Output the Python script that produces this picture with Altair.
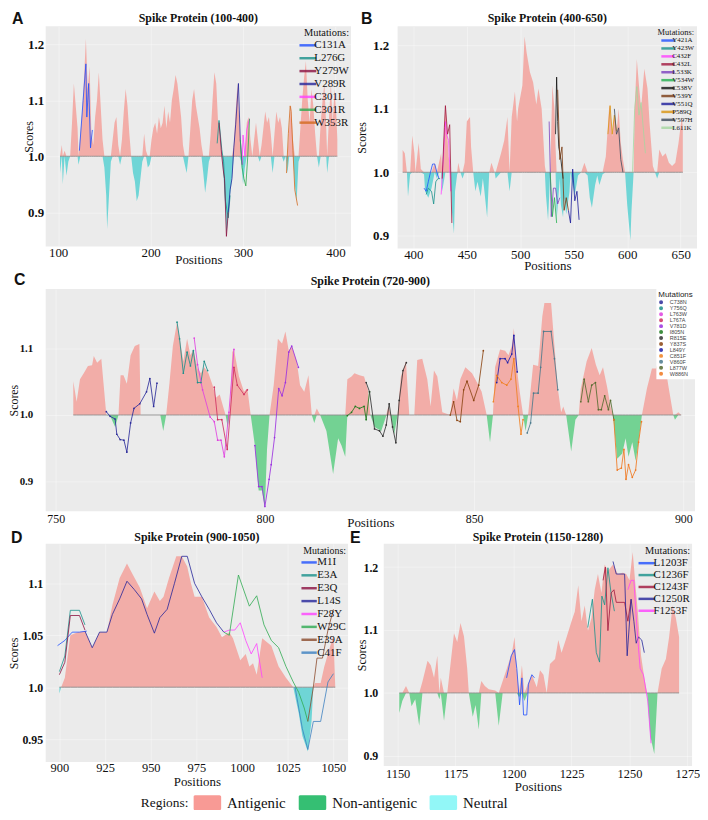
import altair as alt
import pandas as pd

SERIF = "Liberation Serif"
SANS = "Liberation Sans"
INK = "#111111"
PANEL_BG = "#EBEBEB"
ANTIGENIC_FILL = "#F2ADA8"
NEUTRAL_FILL = "#6FD5D6"
NONANTIGENIC_FILL = "#73D293"
BASE_COLOR = "#8C8C8C"

# ---------------- Panel A : Spike Protein (100-400) ----------------
a_profile = [
    (102, 0.97), (104, 1.02), (105, 0.95), (107, 1.01), (109, 0.965), (111, 0.99), (113, 1.0), (115, 1.06),
    (117, 1.13), (119, 1.09), (121, 1.05), (122, 0.985), (124, 1.04), (126, 1.08), (128, 1.14), (130, 1.21),
    (132, 1.12), (134, 1.16), (136, 1.04), (138, 1.02), (140, 1.07), (142, 1.1), (144, 1.15), (146, 1.09),
    (148, 1.03), (150, 0.98), (152, 0.93), (153, 0.87), (155, 0.93), (157, 0.99), (159, 1.03), (161, 1.06),
    (163, 1.07), (165, 1.02), (167, 0.985), (169, 1.03), (171, 1.08), (173, 1.12), (175, 1.09), (177, 1.04),
    (179, 1.0), (181, 0.97), (183, 0.955), (185, 0.92), (187, 0.93), (189, 0.96), (191, 0.99), (193, 1.04),
    (195, 1.01), (197, 0.98), (199, 0.985), (201, 1.03), (203, 1.05), (205, 1.06), (207, 1.04), (209, 1.07),
    (211, 1.05), (213, 1.06), (215, 1.09), (217, 1.05), (219, 1.08), (221, 1.06), (223, 1.1), (225, 1.12),
    (227, 1.145), (229, 1.13), (231, 1.1), (233, 1.07), (235, 1.02), (237, 0.985), (239, 0.97), (241, 1.0),
    (243, 1.05), (245, 1.1), (247, 1.12), (249, 1.09), (251, 1.07), (253, 1.05), (255, 1.02), (257, 0.97),
    (259, 0.935), (261, 0.96), (263, 0.99), (265, 1.04), (267, 1.1), (269, 1.15), (271, 1.13), (273, 1.06),
    (275, 1.03), (277, 1.0), (279, 0.96), (281, 0.9), (282, 0.86), (284, 0.89), (286, 0.93), (288, 0.96),
    (290, 1.02), (292, 1.08), (294, 1.13), (296, 1.06), (298, 0.99), (300, 0.95), (302, 0.98), (304, 1.06),
    (306, 1.07), (308, 1.03), (310, 1.0), (312, 1.03), (314, 1.06), (316, 1.03), (318, 0.99), (320, 1.02),
    (322, 1.05), (324, 1.08), (326, 1.06), (328, 1.07), (330, 1.04), (332, 0.97), (334, 1.04), (336, 1.08),
    (338, 1.06), (340, 1.07), (342, 1.05), (344, 0.99), (346, 1.0), (348, 0.97), (350, 1.05), (352, 1.09),
    (354, 1.03), (356, 0.95), (358, 0.92), (360, 0.99), (362, 1.05), (364, 1.1), (366, 1.14), (368, 1.17),
    (370, 1.1), (372, 1.06), (374, 1.12), (376, 1.09), (378, 1.04), (380, 1.0), (382, 0.98), (384, 1.06),
    (386, 1.1), (388, 1.13), (390, 1.05), (391, 0.97), (393, 1.07), (395, 1.13), (397, 1.06), (399, 1.12),
    (401, 1.07), (402, 1.03),
]
a_mut_names = ["C131A", "L276G", "Y279W", "V289R", "C301L", "C301R", "W353R"]
a_mut_colors = ["#1F4FFF", "#17908A", "#8B1040", "#23239A", "#FF40FF", "#2EAA50", "#D2691E"]
a_mut_positions = [
    [123, 127, 130, 131, 133, 135, 137],
    [272, 274, 277, 279, 281, 284, 286],
    [274, 277, 279, 280, 282, 284],
    [284, 286, 288, 290, 292, 295, 297, 299],
    [299, 300, 302, 304, 307],
    [297, 299, 301, 303, 305, 307],
    [347, 349, 351, 352, 354, 356, 359],
]
a_mut_scores = [
    [1.01, 1.10, 1.165, 1.07, 1.13, 1.015, 1.047],
    [1.023, 1.064, 1.012, 0.99, 0.92, 0.89, 0.93],
    [1.06, 1.0, 0.97, 0.96, 0.857, 0.9],
    [0.9, 0.94, 0.96, 1.015, 1.056, 1.13, 1.03, 0.985],
    [0.985, 1.038, 1.0, 1.047, 1.067],
    [1.03, 0.98, 0.96, 0.947, 0.997, 1.067],
    [0.97, 1.04, 1.09, 1.08, 1.01, 0.94, 0.912],
]

# ---------------- Panel B : Spike Protein (400-650) ----------------
b_profile = [
    (390, 1.035), (392, 1.03), (394, 1.0), (395, 0.962), (397, 0.997), (399, 1.058), (401, 1.03), (402, 1.0),
    (405, 1.046), (407, 1.005), (410, 0.997), (411, 0.97), (414, 0.96), (417, 0.975), (420, 1.015), (422, 0.99),
    (424, 1.015), (426, 1.03), (427, 0.97), (430, 1.107), (431, 1.08), (433, 1.025), (435, 1.0), (436, 0.94),
    (438, 0.903), (439, 0.97), (441, 0.997), (442, 1.015), (444, 1.0), (446, 0.99), (448, 1.015), (450, 1.08),
    (453, 1.087), (454, 1.04), (456, 1.0), (458, 0.97), (460, 0.985), (463, 0.962), (465, 0.99), (466, 0.977),
    (469, 0.929), (471, 1.0), (473, 1.015), (476, 1.0), (477, 0.99), (482, 1.03), (485, 1.05), (488, 1.087),
    (490, 0.97), (492, 1.087), (495, 1.127), (497, 1.08), (498, 1.1), (502, 1.137), (504, 1.214), (506, 1.188),
    (509, 1.158), (512, 1.142), (515, 1.107), (517, 1.132), (520, 1.1), (521, 1.071), (523, 1.01), (524, 0.964),
    (526, 0.924), (528, 1.0), (530, 1.137), (532, 1.1), (533, 1.04), (534, 0.924), (537, 0.99), (538, 0.949),
    (540, 0.929), (541, 0.959), (543, 0.934), (546, 0.969), (547, 1.0), (549, 0.98), (551, 0.964), (554, 0.995),
    (557, 1.0), (560, 1.015), (563, 0.995), (565, 0.96), (567, 0.944), (570, 0.98), (572, 0.995), (574, 0.98),
    (577, 0.997), (580, 1.025), (583, 1.1), (584, 1.107), (586, 1.056), (588, 1.092), (590, 1.061), (592, 1.1),
    (594, 1.046), (596, 1.02), (598, 1.0), (600, 0.949), (603, 0.893), (604, 0.939), (606, 1.0), (607, 1.1),
    (609, 1.178), (611, 1.137), (613, 1.1), (616, 1.163), (619, 1.132), (621, 1.076), (624, 1.01), (626, 1.0),
    (628, 0.99), (630, 1.036), (633, 1.025), (636, 1.03), (639, 1.015), (642, 1.01), (645, 1.015), (648, 1.046),
    (651, 1.087), (652, 1.07),
]
b_mut_names = ["Y421A", "Y423W", "C432F", "C432L", "L533K", "V534W", "C538V", "V539Y", "V551Q", "P589Q",
               "V597H", "L611K"]
b_mut_colors = ["#1F4FFF", "#17908A", "#FF40FF", "#A0143C", "#7B3FBF", "#22B04F", "#111111", "#7A3A12",
                "#1B1B9A", "#D9940F", "#3C4A5C", "#A5D6A0"]
b_mut_positions = [
    [410, 412, 414, 416, 418, 420, 422, 424],
    [412, 414, 417, 419, 421, 423, 425],
    [426, 428, 430, 431, 433, 435],
    [427, 429, 430, 432, 434, 436],
    [527, 529, 531, 533, 535, 537],
    [528, 530, 532, 534],
    [533, 534, 535, 536, 538, 540],
    [535, 537, 539, 541, 543, 545],
    [545, 547, 549, 551, 553, 555],
    [582, 584, 586, 588, 590],
    [588, 590, 592, 594, 596],
    [605, 607, 609, 611, 613, 615, 617],
]
b_mut_scores = [
    [0.975, 0.97, 0.985, 1.0, 1.013, 1.013, 1.0, 0.99],
    [0.965, 0.975, 0.97, 0.95, 0.985, 0.99, 0.99],
    [0.965, 1.02, 1.08, 1.06, 1.05, 0.97],
    [0.99, 1.07, 1.105, 1.06, 1.075, 0.92],
    [1.08, 0.93, 0.975, 0.975, 0.95, 0.96],
    [1.0, 0.93, 0.96, 0.92],
    [1.06, 1.15, 1.08, 1.04, 1.02, 0.99],
    [1.13, 1.02, 1.04, 0.94, 0.96, 0.94],
    [0.94, 0.92, 1.005, 0.955, 0.97, 0.925],
    [1.06, 1.105, 1.06, 1.09, 1.065],
    [1.1, 1.06, 1.07, 1.02, 1.0],
    [1.0, 1.1, 1.135, 1.09, 1.11, 1.07, 1.03],
]

# ---------------- Panel C : Spike Protein (720-900) ----------------
c_profile = [
    (754.2, 1.051), (755.0, 1.02), (755.8, 1.054), (756.7, 1.063), (757.7, 1.074), (758.7, 1.075), (759.1, 1.089),
    (759.9, 1.079), (760.9, 1.085), (762.1, 1.0), (763.0, 0.999), (764.2, 0.982), (765.0, 1.0), (765.5, 1.06),
    (766.2, 1.06), (767.0, 1.047), (767.9, 1.09), (768.9, 1.104), (770.0, 1.107), (770.3, 1.0), (775.0, 1.0),
    (775.7, 0.976), (776.4, 1.0), (777.2, 1.049), (778.0, 1.104), (779.0, 1.14), (779.6, 1.117), (780.5, 1.081),
    (781.4, 1.115), (782.2, 1.09), (782.9, 1.099), (783.9, 1.07), (784.7, 1.063), (785.5, 1.072), (786.5, 1.063),
    (787.5, 1.045), (788.3, 1.026), (789.2, 1.031), (790.0, 1.013), (790.6, 1.0), (791.1, 0.982), (791.6, 1.0),
    (792.2, 1.095), (792.6, 1.099), (793.8, 1.058), (795.0, 1.035), (795.8, 1.04), (796.6, 1.0), (797.6, 0.954),
    (798.5, 0.886), (799.3, 0.886), (800.0, 0.86), (800.5, 0.948), (801.1, 1.0), (802.1, 1.045), (803.1, 1.115),
    (804.1, 1.108), (804.9, 1.126), (805.7, 1.097), (806.4, 1.104), (807.6, 1.081), (808.4, 1.045), (809.4, 1.035),
    (810.4, 1.06), (811.2, 1.0), (811.8, 0.988), (812.4, 1.01), (813.2, 1.0), (814.7, 0.976), (816.3, 0.911),
    (817.5, 0.965), (818.3, 0.954), (819.2, 0.937), (819.7, 1.054), (820.7, 1.058), (821.4, 1.063), (822.6, 1.06),
    (823.7, 1.058), (824.6, 1.038), (825.2, 1.0), (826.2, 0.982), (827.8, 0.976), (829.0, 0.999), (829.5, 1.013),
    (830.1, 1.0), (830.9, 0.971), (831.7, 1.0), (832.5, 1.058), (833.7, 1.081), (834.5, 1.0), (835.7, 1.0),
    (836.4, 1.083), (837.6, 1.085), (838.8, 1.054), (839.6, 1.013), (840.4, 1.067), (841.2, 1.058), (842.4, 1.004),
    (844.3, 1.0), (845.1, 1.04), (845.9, 1.022), (846.7, 1.054), (847.9, 1.072), (849.5, 1.063), (850.7, 1.049),
    (851.8, 1.035), (853.0, 1.0), (853.8, 0.959), (854.5, 1.0), (855.0, 1.072), (856.2, 1.099), (857.4, 1.097),
    (858.2, 1.09), (859.0, 1.104), (859.5, 1.131), (860.1, 1.076), (860.9, 1.035), (861.7, 1.0), (862.3, 0.976),
    (862.9, 1.0), (864.1, 1.076), (865.3, 1.074), (866.3, 1.149), (866.8, 1.169), (868.4, 1.169), (869.2, 1.104),
    (870.0, 1.04), (870.8, 1.004), (871.3, 1.013), (872.0, 1.0), (873.2, 0.945), (874.2, 0.993), (875.0, 1.0),
    (875.5, 1.04), (876.9, 1.081), (878.1, 1.101), (879.1, 1.076), (880.0, 1.06), (880.8, 1.072), (881.8, 1.042),
    (882.6, 1.013), (883.2, 1.0), (884.2, 0.934), (885.4, 0.942), (886.2, 0.965), (886.9, 0.937), (887.8, 0.959),
    (888.6, 0.931), (889.3, 0.959), (890.1, 1.0), (891.3, 1.04), (892.5, 1.07), (893.5, 1.07), (894.5, 1.095),
    (895.3, 1.09), (896.4, 1.045), (897.6, 1.0), (898.0, 0.993), (898.8, 1.004), (899.5, 1.0),
]
c_mut_names = ["C738N", "Y756Q", "L763W", "L767A", "V781D", "I805N", "R815E", "Y837S", "L849Y", "C851F",
               "V860F", "L877W", "W886N"]
c_mut_colors = ["#2B2B9A", "#1E8F8A", "#E040E0", "#D03060", "#9B30E0", "#1E7B1E", "#333333", "#8B4513",
                "#1E1EAA", "#F08020", "#4A7A8C", "#556B2F", "#F07820"]
c_mut_positions = [
    [762.1, 763.0, 764.2, 764.6, 765.4, 766.3, 767.0, 767.9, 768.7, 770.1, 771.7, 772.5, 773.4, 774.2],
    [779.0, 779.6, 780.5, 781.4, 782.2, 782.9, 783.9, 784.7, 785.5, 786.3],
    [783.1, 783.9, 785.1, 786.9, 787.9, 788.7, 789.5, 790.3, 791.4, 792.6],
    [787.9, 788.7, 789.7, 791.0, 792.6, 793.4, 795.0, 795.8],
    [797.6, 798.5, 799.3, 800.0, 801.0, 801.5, 802.3, 803.3, 804.1, 804.9, 805.7, 806.4, 808.0],
    [819.7, 820.7, 821.6, 822.6, 823.7, 824.2, 825.0],
    [824.2, 825.0, 826.2, 827.4, 828.2, 829.0, 829.7, 830.5, 831.3, 832.1, 833.0, 833.8],
    [844.3, 845.1, 845.9, 846.7, 847.5, 848.3, 849.9, 851.1, 852.2],
    [855.4, 856.2, 857.4, 858.0, 859.0, 859.5, 860.3],
    [854.6, 855.4, 856.6, 857.8, 858.8, 859.5, 860.5, 861.2, 861.7],
    [862.7, 863.5, 864.2, 865.3, 865.9, 866.6, 868.4, 869.2, 870.0],
    [875.5, 876.3, 877.3, 878.1, 879.0, 879.7, 880.4, 881.2, 882.1, 882.6, 883.4],
    [883.4, 884.2, 885.2, 885.8, 886.3, 886.9, 887.8, 888.6, 889.3, 890.0],
]
c_mut_scores = [
    [1.005, 0.998, 0.994, 0.971, 0.963, 0.962, 0.944, 0.988, 1.01, 1.017, 1.035, 1.055, 1.013, 1.048],
    [1.14, 1.115, 1.063, 1.095, 1.074, 1.097, 1.049, 1.049, 1.081, 1.067],
    [1.116, 1.076, 1.038, 0.997, 0.99, 0.962, 0.962, 0.937, 1.004, 1.099],
    [1.042, 0.993, 0.993, 0.948, 1.072, 1.045, 1.031, 1.038],
    [0.954, 0.892, 0.892, 0.862, 0.903, 0.925, 0.966, 1.04, 1.029, 1.049, 1.095, 1.104, 1.072],
    [0.999, 1.004, 1.013, 1.01, 1.013, 0.993, 1.035],
    [1.049, 1.035, 0.979, 0.976, 0.968, 0.985, 1.017, 0.982, 0.958, 1.022, 1.067, 1.079],
    [1.0, 1.02, 0.992, 0.99, 1.038, 1.051, 1.022, 1.045, 1.097],
    [1.049, 1.085, 1.085, 1.079, 1.092, 1.12, 1.065],
    [1.02, 1.06, 1.049, 1.045, 1.054, 1.085, 1.013, 0.971, 0.993],
    [0.973, 0.988, 1.033, 1.033, 1.072, 1.126, 1.126, 1.085, 1.038],
    [1.02, 1.054, 1.02, 1.045, 1.049, 1.008, 1.008, 1.029, 1.008, 1.022, 0.993],
    [0.993, 0.917, 0.92, 0.948, 0.903, 0.925, 0.906, 0.917, 0.959, 0.99],
]

# ---------------- Panel D : Spike Protein (900-1050) ----------------
d_profile = [
    (900, 0.994), (901, 1.0), (903, 1.009), (906, 1.05), (910, 1.053), (914, 1.054), (918, 1.038), (922, 1.053),
    (926, 1.053), (929, 1.079), (933, 1.105), (937, 1.119), (940, 1.109), (944, 1.096), (948, 1.076), (952, 1.092),
    (955, 1.083), (957, 1.087), (960, 1.105), (964, 1.126), (967, 1.126), (970, 1.116), (972, 1.1), (974, 1.087),
    (978, 1.087), (982, 1.067), (986, 1.058), (989, 1.048), (993, 1.053), (995, 1.047), (999, 1.026), (1002, 1.032),
    (1004, 1.02), (1006, 1.023), (1008, 1.012), (1011, 1.047), (1016, 1.04), (1020, 1.02), (1024, 1.009),
    (1028, 1.0), (1031, 0.975), (1033, 0.953), (1036, 0.938), (1038, 0.967), (1039, 1.0), (1040, 1.004),
    (1043, 1.004), (1045, 1.02), (1047, 1.032), (1050, 1.05), (1051, 1.0),
]
d_mut_names = ["M1I", "E3A", "E3Q", "L14S", "F28Y", "W29C", "E39A", "C41F"]
d_mut_colors = ["#1F4FFF", "#17908A", "#8B1040", "#23239A", "#FF40FF", "#2EAA50", "#8B4A2B", "#3A7FC0"]
d_mut_positions = [
    [899, 903, 907, 911, 915],
    [900, 903, 906, 908, 911, 914],
    [900, 903, 906, 908, 911, 914],
    [914, 918, 922, 926, 929, 933, 937, 941, 945, 948, 952, 955, 959, 963, 967, 970, 974, 978, 982, 986, 990],
    [990, 993, 996, 999, 1002, 1005, 1008, 1011],
    [990, 993, 998, 1004, 1008, 1012, 1016, 1020, 1024, 1028, 1031, 1034, 1036],
    [1036, 1039, 1041, 1044, 1047, 1050],
    [1029, 1033, 1036, 1039, 1043, 1047, 1050],
]
d_mut_scores = [
    [1.04, 1.045, 1.053, 1.053, 1.054],
    [1.015, 1.03, 1.074, 1.074, 1.074, 1.06],
    [1.012, 1.024, 1.069, 1.069, 1.069, 1.055],
    [1.054, 1.038, 1.053, 1.053, 1.07, 1.085, 1.102, 1.094, 1.085, 1.07, 1.052, 1.067, 1.075, 1.1, 1.126, 1.126,
     1.1, 1.087, 1.075, 1.062, 1.053],
    [1.053, 1.055, 1.055, 1.062, 1.045, 1.032, 1.042, 1.009],
    [1.053, 1.05, 1.108, 1.078, 1.088, 1.06, 1.045, 1.038, 1.02, 1.005, 0.995, 0.98, 0.967],
    [0.967, 1.0, 1.028, 1.028, 1.055, 1.075],
    [1.0, 0.96, 0.94, 0.967, 0.967, 1.005, 1.013],
]

# ---------------- Panel E : Spike Protein (1150-1280) ----------------
e_profile = [
    (1150.7, 0.968), (1152, 0.987), (1153.6, 1.011), (1155, 1.0), (1156, 0.979), (1157.6, 0.99), (1159.3, 0.948),
    (1160.7, 1.018), (1162.9, 1.051), (1164.3, 1.044), (1165.7, 1.024), (1167.1, 1.059), (1168, 0.99),
    (1168.6, 1.024), (1170, 0.956), (1171.4, 1.0), (1172.9, 1.049), (1174.3, 1.095), (1175.7, 1.081),
    (1177.1, 1.111), (1178.6, 1.09), (1180, 1.039), (1180.7, 1.0), (1182.4, 0.962), (1183.6, 0.981),
    (1185, 0.942), (1186.1, 1.019), (1187.6, 1.011), (1189.3, 1.006), (1192.1, 1.004), (1193.6, 0.948),
    (1195.3, 1.019), (1197.1, 1.039), (1199.3, 1.064), (1200.4, 1.089), (1201.4, 1.039), (1202.4, 0.993),
    (1203.6, 1.044), (1204.7, 0.987), (1206.1, 1.014), (1207.9, 1.029), (1210, 1.009), (1211.4, 1.036),
    (1212.9, 1.029), (1214.3, 1.0), (1215.7, 1.046), (1217.9, 1.054), (1219.3, 1.084), (1220.7, 1.064),
    (1222.9, 1.089), (1225, 1.114), (1226.4, 1.129), (1227.9, 1.171), (1229.3, 1.114), (1230.7, 1.139),
    (1232.1, 1.099), (1233.6, 1.119), (1235, 1.164), (1236.4, 1.189), (1237.9, 1.159), (1239.3, 1.204),
    (1240.7, 1.194), (1242.9, 1.204), (1245, 1.189), (1247.1, 1.191), (1248.6, 1.189), (1250, 1.179),
    (1251.4, 1.224), (1252.4, 1.179), (1253.6, 1.129), (1255, 1.059), (1256.4, 1.024), (1257.6, 1.0),
    (1259, 0.931), (1260.7, 0.903), (1262.1, 1.0), (1263.9, 1.039), (1265.7, 1.054), (1267.1, 1.089),
    (1268.6, 1.139), (1270, 1.119), (1271.4, 1.089),
]
e_mut_names = ["L1203F", "C1236F", "C1243F", "C1250R", "F1253F"]
e_mut_colors = ["#1F4FFF", "#17908A", "#A0143C", "#23239A", "#FF40FF"]
e_mut_positions = [
    [1197, 1199, 1200.4, 1201.4, 1202.6, 1203.6, 1204.3, 1205.7, 1206.4, 1207.9, 1209],
    [1232, 1234, 1235.7, 1237.1, 1238.1, 1239.3, 1240.7, 1242, 1243.5],
    [1238.6, 1239.6, 1240.7, 1242.1, 1243.3, 1244.3, 1247.9, 1249.3, 1250.7],
    [1242.9, 1244.3, 1247.9, 1249, 1250.7, 1251.9, 1252.9, 1253.9, 1255.3, 1256.4],
    [1249.3, 1250.7, 1251.9, 1253.3, 1254.6, 1256, 1257.9, 1259.3],
]
e_mut_scores = [
    [1.024, 1.059, 1.069, 1.039, 0.981, 1.024, 0.965, 0.965, 1.014, 1.029, 1.024],
    [1.104, 1.149, 1.064, 1.049, 1.154, 1.14, 1.199, 1.16, 1.13],
    [1.179, 1.2, 1.099, 1.159, 1.164, 1.144, 1.144, 1.114, 1.149],
    [1.209, 1.189, 1.189, 1.059, 1.149, 1.114, 1.079, 1.089, 1.084, 1.064],
    [1.164, 1.179, 1.179, 1.099, 1.039, 1.029, 0.987, 0.92],
]

# ---------------- Regions key ----------------
regions = ["Antigenic", "Non-antigenic", "Neutral"]
region_key_colors = ["#F89A95", "#35BF73", "#92F7F7"]


def profile_frame(profile):
    df = pd.DataFrame(profile, columns=["pos", "score"])
    df["hi"] = df["score"].clip(lower=1.0)
    df["lo"] = df["score"].clip(upper=1.0)
    return df


def mutation_frame(names, positions, scores):
    rows = []
    for name, ps, vs in zip(names, positions, scores):
        for p, v in zip(ps, vs):
            rows.append({"mutation": name, "pos": p, "score": v})
    return pd.DataFrame(rows)


def make_panel(letter, title, profile, below_fill, names, colors, positions, scores, cfg):
    prof = profile_frame(profile)
    muts = mutation_frame(names, positions, scores)
    xsc = alt.Scale(domain=cfg["xdom"], nice=False, zero=False)
    ysc = alt.Scale(domain=cfg["ydom"], nice=False, zero=False)
    xax = alt.Axis(values=cfg["xticks"], format="d", labelFont=SERIF, labelFontSize=cfg["xsize"],
                   labelFontWeight="normal", labelColor=INK, labelPadding=cfg["xpad"], labelFlush=False,
                   ticks=False, domain=False, grid=True, gridColor="white", gridOpacity=0.45, gridWidth=0.8,
                   title="Positions", titleFont=SERIF, titleFontSize=13, titleFontWeight="normal",
                   titleColor=INK, titleY=cfg["ty"], titleBaseline="middle")
    yax = alt.Axis(values=cfg["yticks"], labelExpr=cfg["ylab"], labelFont=SERIF, labelFontSize=cfg["ysize"],
                   labelFontWeight="bold", labelColor=INK, labelPadding=cfg["ypad"], labelFlush=False,
                   ticks=False, domain=False, grid=True, gridColor="white", gridOpacity=0.45, gridWidth=0.8,
                   title="Scores", titleFont=SERIF, titleFontSize=12, titleFontWeight="normal",
                   titleColor=INK, titleX=cfg["tx"])

    def X(f):
        return alt.X(f, type="quantitative", scale=xsc, axis=xax, title="Positions")

    def Y(f):
        return alt.Y(f, type="quantitative", scale=ysc, axis=yax, title="Scores")

    above = alt.Chart(prof).mark_area(color=ANTIGENIC_FILL).encode(x=X("pos"), y=Y("hi"), y2=alt.datum(1.0))
    below = alt.Chart(prof).mark_area(color=below_fill).encode(x=X("pos"), y=Y("lo"), y2=alt.datum(1.0))
    base = alt.Chart(prof).mark_line(color=BASE_COLOR, strokeWidth=0.9).encode(x=X("pos"), y=alt.datum(1.0))
    if cfg.get("dots"):
        line_mark = alt.Chart(muts).mark_line(strokeWidth=1, opacity=0.85,
                                              point=alt.OverlayMarkDef(filled=True, size=3))
    else:
        line_mark = alt.Chart(muts).mark_line(strokeWidth=1, opacity=0.8)
    lines = line_mark.encode(
        x=X("pos"), y=Y("score"),
        color=alt.Color("mutation:N", scale=alt.Scale(domain=names, range=colors), legend=cfg["legend"]),
    )
    labels = pd.DataFrame({"tag": [letter], "title": [title]})
    tag = alt.Chart(labels).mark_text(
        font=SANS, fontSize=16, fontWeight="bold", align="left", baseline="middle", color=INK
    ).encode(text="tag:N", x=alt.value(cfg["tag_x"]), y=alt.value(cfg["tag_y"]))
    head = alt.Chart(labels).mark_text(
        font=SERIF, fontSize=12, fontWeight="bold", align="center", baseline="middle", color=INK
    ).encode(text="title:N", x=alt.value(cfg["w"] / 2), y=alt.value(cfg["title_y"]))

    return alt.layer(above, below, base, lines, tag, head).properties(
        width=cfg["w"], height=cfg["h"],
        view=alt.ViewBackground(fill=PANEL_BG, strokeWidth=0),
    )


def serif_legend(title_size, label_size, path, size, row_h):
    return alt.Legend(orient="top-right", offset=2, padding=0, title="Mutations:", titleFont=SERIF,
                      titleFontSize=title_size, titleFontWeight="normal", titleColor=INK, titleAnchor="end",
                      titlePadding=1, labelFont=SERIF, labelFontSize=label_size, labelColor=INK, labelOffset=2,
                      symbolType=path, symbolSize=size, symbolStrokeWidth=2.5, rowPadding=0,
                      clipHeight=row_h)


ONE_DEC = "format(datum.value, '.1f')"
D_LAB = "datum.value == 1 ? '1.0' : (datum.value == 1.1 ? '1.1' : format(datum.value, '.2f'))"

panel_a = make_panel("A", "Spike Protein (100-400)", a_profile, NEUTRAL_FILL, a_mut_names, a_mut_colors,
                     a_mut_positions, a_mut_scores, dict(
                         w=308, h=222, xdom=[86.5, 416.8], ydom=[0.839, 1.232], xticks=[100, 200, 300, 400],
                         yticks=[0.9, 1.0, 1.1, 1.2], ylab=ONE_DEC, xsize=13, ysize=13, xpad=0, ypad=2,
                         ty=13, tx=-10, tag_x=-34, tag_y=-7, title_y=-8,
                         legend=serif_legend(10.5, 11, "M-2,0H2", 110, 11.3)))
panel_b = make_panel("B", "Spike Protein (400-650)", b_profile, NEUTRAL_FILL, b_mut_names, b_mut_colors,
                     b_mut_positions, b_mut_scores, dict(
                         w=302, h=224, xdom=[385.3, 665.3], ydom=[0.880, 1.230],
                         xticks=[400, 450, 500, 550, 600, 650], yticks=[0.9, 1.0, 1.1, 1.2], ylab=ONE_DEC,
                         xsize=13, ysize=13, xpad=0, ypad=9, ty=17, tx=-29, tag_x=-37, tag_y=-7, title_y=-8,
                         legend=serif_legend(8.5, 7, "M-3,0H3", 36, 5.6)))
panel_c = make_panel("C", "Spike Protein (720-900)", c_profile, NONANTIGENIC_FILL, c_mut_names, c_mut_colors,
                     c_mut_positions, c_mut_scores, dict(
                         w=655, h=224, xdom=[747.6, 902.8], ydom=[0.855, 1.19], xticks=[750, 800, 850, 900],
                         yticks=[0.9, 1.0, 1.1], ylab=ONE_DEC, xsize=12, ysize=11, xpad=2, ypad=13,
                         ty=12, tx=-25, tag_x=-32, tag_y=-9, title_y=-8, dots=True,
                         legend=alt.Legend(orient="top-right", offset=0, padding=2, fillColor="white",
                                           title="Mutations", titleFont=SANS, titleFontSize=8,
                                           titleFontWeight="normal", titleColor="#222222", titlePadding=1,
                                           labelFont=SANS, labelFontSize=5.5, labelColor="#444444",
                                           labelOffset=6, symbolType="circle", symbolSize=4,
                                           symbolStrokeWidth=2, rowPadding=0, clipHeight=4.8)))
panel_d = make_panel("D", "Spike Protein (900-1050)", d_profile, NEUTRAL_FILL, d_mut_names, d_mut_colors,
                     d_mut_positions, d_mut_scores, dict(
                         w=305, h=220, xdom=[892.5, 1058], ydom=[0.928, 1.138],
                         xticks=[900, 925, 950, 975, 1000, 1025, 1050], yticks=[0.95, 1.0, 1.05, 1.1],
                         ylab=D_LAB, xsize=12.5, ysize=12, xpad=0, ypad=3, ty=20, tx=-25, tag_x=-35, tag_y=-6,
                         title_y=-7, legend=serif_legend(10, 11, "M-1.6,0H1.6", 112, 11.5)))
panel_e = make_panel("E", "Spike Protein (1150-1280)", e_profile, NONANTIGENIC_FILL, e_mut_names, e_mut_colors,
                     e_mut_positions, e_mut_scores, dict(
                         w=311, h=224, xdom=[1144, 1277], ydom=[0.884, 1.237],
                         xticks=[1150, 1175, 1200, 1225, 1250, 1275], yticks=[0.9, 1.0, 1.1, 1.2],
                         ylab=ONE_DEC, xsize=12.5, ysize=12, xpad=2, ty=21, ypad=6, tx=-15, tag_x=-34,
                         tag_y=-6, title_y=-7, legend=serif_legend(10.5, 11, "M-2,0H2", 100, 12)))

RECT = ("M-0.88,-0.536H0.88A0.12,0.12 0 0 1 1,-0.416V0.416A0.12,0.12 0 0 1 0.88,0.536H-0.88"
        "A0.12,0.12 0 0 1 -1,0.416V-0.416A0.12,0.12 0 0 1 -0.88,-0.536Z")
key = alt.Chart(pd.DataFrame({"region": regions})).mark_square(opacity=0, size=4).encode(
    fill=alt.Fill("region:N", scale=alt.Scale(domain=regions, range=region_key_colors),
                  legend=alt.Legend(orient="none", legendX=96, legendY=1, direction="horizontal",
                                    columns=3, gridAlign="each", title="Regions:", titleOrient="left",
                                    titleFont=SERIF, titleFontSize=13.5, titleFontWeight="normal",
                                    titleColor=INK, titlePadding=4, titleBaseline="middle",
                                    labelFont=SERIF, labelFontSize=15, labelColor=INK, labelOffset=6,
                                    columnPadding=12, symbolType=RECT, symbolSize=784, symbolStrokeWidth=0,
                                    symbolOpacity=1, clipHeight=16))
).properties(width=10, height=10, view=alt.ViewBackground(fill="white", strokeWidth=0))

row1 = alt.hconcat(panel_a, panel_b, spacing=5).resolve_scale(x="independent", y="independent",
                                                              color="independent")
row3 = alt.hconcat(panel_d, panel_e, spacing=2).resolve_scale(x="independent", y="independent",
                                                              color="independent")
chart = alt.vconcat(row1, panel_c, row3, key, spacing=0).resolve_scale(
    x="independent", y="independent", color="independent", fill="independent"
).properties(padding=0, background="white")

chart.save("out.html", embed_options={"renderer": "svg", "actions": False})
